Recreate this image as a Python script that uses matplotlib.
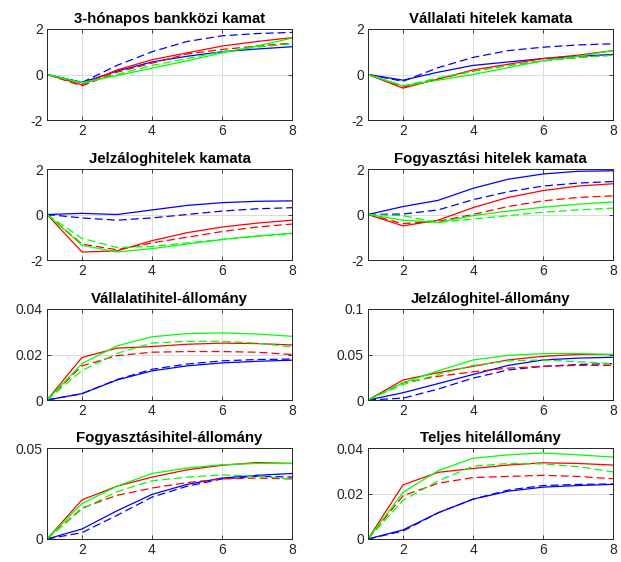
import matplotlib
matplotlib.use("Agg")
import matplotlib.pyplot as plt

plt.rcParams['font.family'] = ['Liberation Sans', 'DejaVu Sans']

x = [1, 2, 3, 4, 5, 6, 7, 8]

titles = ["3-hónapos bankközi kamat", "Vállalati hitelek kamata",
          "Jelzáloghitelek kamata", "Fogyasztási hitelek kamata",
          "Vállalatihitel-állomány", "Jelzáloghitel-állomány",
          "Fogyasztásihitel-állomány", "Teljes hitelállomány"]

# each panel: blue solid, blue dashed, red solid, red dashed, green solid, green dashed
p1_blue = [0, -0.35, 0.15, 0.55, 0.8, 1.0, 1.12, 1.22]
p1_blue_d = [0, -0.35, 0.4, 1.0, 1.45, 1.7, 1.8, 1.85]
p1_red = [0, -0.45, 0.2, 0.65, 0.95, 1.25, 1.45, 1.62]
p1_red_d = [0, -0.5, 0.1, 0.5, 0.9, 1.1, 1.25, 1.38]
p1_green = [0, -0.35, -0.05, 0.28, 0.6, 0.95, 1.25, 1.6]
p1_green_d = [0, -0.4, 0.0, 0.4, 0.7, 1.0, 1.2, 1.35]

p2_blue = [0, -0.25, 0.1, 0.4, 0.55, 0.7, 0.8, 0.88]
p2_blue_d = [0, -0.3, 0.3, 0.75, 1.05, 1.2, 1.3, 1.35]
p2_red = [0, -0.6, -0.2, 0.2, 0.45, 0.7, 0.85, 1.05]
p2_red_d = [0, -0.55, -0.2, 0.15, 0.4, 0.6, 0.75, 0.85]
p2_green = [0, -0.5, -0.25, 0.0, 0.3, 0.6, 0.8, 1.05]
p2_green_d = [0, -0.5, -0.15, 0.15, 0.4, 0.6, 0.75, 0.85]

p3_blue = [0, 0.05, 0.0, 0.2, 0.4, 0.52, 0.58, 0.6]
p3_blue_d = [0, -0.15, -0.25, -0.15, 0.0, 0.15, 0.25, 0.3]
p3_red = [0, -1.65, -1.6, -1.15, -0.8, -0.55, -0.38, -0.25]
p3_red_d = [0, -1.3, -1.55, -1.25, -1.0, -0.75, -0.55, -0.42]
p3_green = [0, -1.35, -1.65, -1.5, -1.3, -1.1, -0.95, -0.82]
p3_green_d = [0, -1.05, -1.45, -1.4, -1.25, -1.1, -0.95, -0.85]

p4_blue = [0, 0.35, 0.62, 1.15, 1.55, 1.78, 1.9, 1.92]
p4_blue_d = [0, 0.02, 0.2, 0.65, 1.0, 1.25, 1.38, 1.45]
p4_red = [0, -0.5, -0.25, 0.3, 0.75, 1.05, 1.25, 1.35]
p4_red_d = [0, -0.4, -0.3, 0.0, 0.35, 0.6, 0.75, 0.82]
p4_green = [0, -0.25, -0.35, -0.05, 0.15, 0.32, 0.45, 0.55]
p4_green_d = [0, -0.05, -0.35, -0.2, -0.05, 0.1, 0.2, 0.28]

p5_blue = [0, 0.0028, 0.0088, 0.0128, 0.015, 0.0163, 0.0170, 0.0175]
p5_blue_d = [0, 0.0028, 0.009, 0.0135, 0.0158, 0.0172, 0.0178, 0.018]
p5_red = [0, 0.0187, 0.0228, 0.0235, 0.0245, 0.025, 0.0248, 0.0242]
p5_red_d = [0, 0.015, 0.0195, 0.021, 0.0213, 0.0213, 0.021, 0.020]
p5_green = [0, 0.016, 0.0238, 0.0278, 0.0292, 0.0295, 0.029, 0.028]
p5_green_d = [0, 0.013, 0.0205, 0.025, 0.0258, 0.0258, 0.025, 0.0233]

p6_blue = [0, 0.008, 0.018, 0.028, 0.038, 0.044, 0.046, 0.047]
p6_blue_d = [0, 0.002, 0.012, 0.024, 0.033, 0.037, 0.039, 0.040]
p6_red = [0, 0.022, 0.030, 0.037, 0.044, 0.048, 0.050, 0.050]
p6_red_d = [0, 0.019, 0.026, 0.031, 0.035, 0.037, 0.038, 0.038]
p6_green = [0, 0.019, 0.032, 0.044, 0.049, 0.051, 0.051, 0.050]
p6_green_d = [0, 0.017, 0.028, 0.038, 0.043, 0.044, 0.042, 0.040]

p7_blue = [0, 0.0055, 0.0155, 0.0245, 0.030, 0.0335, 0.035, 0.036]
p7_blue_d = [0, 0.0035, 0.013, 0.023, 0.029, 0.033, 0.0345, 0.034]
p7_red = [0, 0.0215, 0.029, 0.034, 0.038, 0.0405, 0.042, 0.0415]
p7_red_d = [0, 0.017, 0.024, 0.028, 0.031, 0.033, 0.0335, 0.033]
p7_green = [0, 0.0195, 0.029, 0.036, 0.039, 0.0408, 0.0415, 0.0415]
p7_green_d = [0, 0.0165, 0.026, 0.032, 0.034, 0.0352, 0.0345, 0.033]

p8_blue = [0, 0.004, 0.0115, 0.0175, 0.021, 0.0228, 0.0235, 0.024]
p8_blue_d = [0, 0.0035, 0.0115, 0.0175, 0.0215, 0.0235, 0.024, 0.0242]
p8_red = [0, 0.0238, 0.0293, 0.031, 0.0325, 0.0335, 0.0332, 0.0325]
p8_red_d = [0, 0.019, 0.0245, 0.027, 0.0275, 0.028, 0.0275, 0.0265]
p8_green = [0, 0.0205, 0.030, 0.0355, 0.037, 0.0378, 0.037, 0.036]
p8_green_d = [0, 0.017, 0.0255, 0.032, 0.0332, 0.033, 0.0318, 0.0295]

panels = [
    [p1_blue, p1_blue_d, p1_red, p1_red_d, p1_green, p1_green_d],
    [p2_blue, p2_blue_d, p2_red, p2_red_d, p2_green, p2_green_d],
    [p3_blue, p3_blue_d, p3_red, p3_red_d, p3_green, p3_green_d],
    [p4_blue, p4_blue_d, p4_red, p4_red_d, p4_green, p4_green_d],
    [p5_blue, p5_blue_d, p5_red, p5_red_d, p5_green, p5_green_d],
    [p6_blue, p6_blue_d, p6_red, p6_red_d, p6_green, p6_green_d],
    [p7_blue, p7_blue_d, p7_red, p7_red_d, p7_green, p7_green_d],
    [p8_blue, p8_blue_d, p8_red, p8_red_d, p8_green, p8_green_d],
]

ylims = [(-2, 2), (-2, 2), (-2, 2), (-2, 2), (0, 0.04), (0, 0.1), (0, 0.05), (0, 0.04)]
yticks = [[-2, 0, 2], [-2, 0, 2], [-2, 0, 2], [-2, 0, 2],
          [0, 0.02, 0.04], [0, 0.05, 0.1], [0, 0.05], [0, 0.02, 0.04]]
ytick_labels = [["-2", "0", "2"], ["-2", "0", "2"], ["-2", "0", "2"], ["-2", "0", "2"],
                ["0", "0.02", "0.04"], ["0", "0.05", "0.1"], ["0", "0.05"], ["0", "0.02", "0.04"]]
xticks = [2, 4, 6, 8]

colors = ["#0000ff", "#0000ff", "#ff0000", "#ff0000", "#00ff00", "#00ff00"]
dashed = [False, True, False, True, False, True]

W, H = 621, 562
fig = plt.figure(figsize=(W / 100, H / 100), dpi=100)

lefts = [47, 368]
tops = [29, 169, 309, 448]
aw, ah = 245, 91

for i in range(8):
    r, c = divmod(i, 2)
    ax = fig.add_axes([lefts[c] / W, 1 - (tops[r] + ah) / H, aw / W, ah / H])
    for s, col, d in zip(panels[i], colors, dashed):
        if d:
            ax.plot(x, s, color=col, linewidth=0.9, linestyle="--", dashes=(6.4, 3.2))
        else:
            ax.plot(x, s, color=col, linewidth=0.9, linestyle="-")
    ax.set_xlim(1, 8)
    ax.set_ylim(*ylims[i])
    ax.set_xticks(xticks)
    ax.set_yticks(yticks[i])
    ax.set_yticklabels(ytick_labels[i])
    ax.grid(True, color="#dcdcdc", linewidth=0.7)
    ax.set_axisbelow(True)
    ax.tick_params(direction="in", length=3, width=0.6, labelsize=10,
                   colors="#262626", top=True, right=True, pad=3)
    for sp in ax.spines.values():
        sp.set_color("#262626")
        sp.set_linewidth(0.7)
    ax.set_title(titles[i], fontsize=10.8, fontweight="bold", color="#000000", pad=4)

fig.savefig("out.png", dpi=100)
